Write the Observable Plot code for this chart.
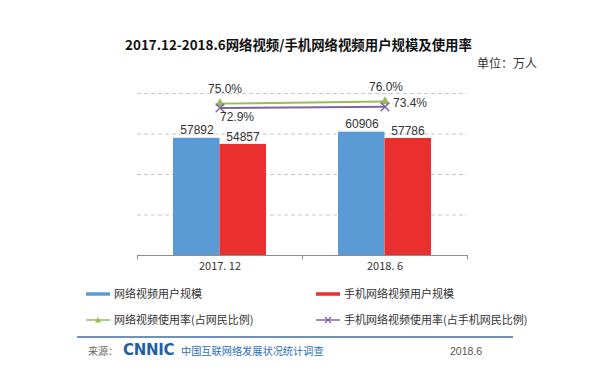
<!DOCTYPE html>
<html>
<head>
<meta charset="utf-8">
<script src="https://cdn.jsdelivr.net/npm/d3@7"></script>
<script src="https://cdn.jsdelivr.net/npm/@observablehq/plot@0.6"></script>
<style>
  html, body { margin: 0; padding: 0; background: #fff; }
  #wrap { position: relative; width: 591px; height: 375px; overflow: hidden; font-family: "Noto Sans CJK SC", "Noto Sans", sans-serif; color: #222; }
  #chart { position: absolute; left: 0; top: 0; }
  .abs { position: absolute; white-space: nowrap; line-height: 1; }
  .title { left: 0; width: 597px; text-align: center; top: 38px; font-size: 13.4px; font-weight: bold; color: #111; }
  .unit { left: 477px; top: 57px; font-size: 12px; color: #333; }
  .leg { font-size: 11px; color: #333; display: flex; align-items: center; }
  .leg svg { margin-right: 4px; }
  .footline { left: 77px; top: 336px; width: 436px; height: 2px; background: #6f93b8; }
  .src { left: 88px; top: 346px; font-size: 10px; color: #666; }
  .logo { left: 123px; top: 343px; font-size: 15px; font-weight: 900; color: #1f5fa8; font-family: "DejaVu Sans", sans-serif; letter-spacing: -0.3px; }
  .survey { left: 181px; top: 346px; font-size: 10.2px; color: #2d6fb5; }
  .date { left: 450px; top: 346px; font-size: 10.5px; color: #555; font-family: "Liberation Sans", sans-serif; }
</style>
</head>
<body>
<div id="wrap">
  <div id="chart"></div>
</div>
<script>
// ---- data ----
const categories = ["2017. 12", "2018. 6"];
const seriesNames = ["网络视频用户规模", "手机网络视频用户规模", "网络视频使用率(占网民比例)", "手机网络视频使用率(占手机网民比例)"];
const videoUsers = [57892, 60906];
const mobileVideoUsers = [54857, 57786];
const videoRate = [75.0, 76.0];
const mobileVideoRate = [72.9, 73.4];
const gridTicks = [20000, 40000, 60000, 80000];
const titleText = "2017.12-2018.6网络视频/手机网络视频用户规模及使用率";
const unitText = "单位：万人";
const sourceLabel = "来源：";
const sourceName = "中国互联网络发展状况统计调查";
const sourceDate = "2018.6";

// ---- styles ----
const BLUE = "#5b9bd5", RED = "#e9302f", GREEN = "#9bbb59", PURPLE = "#8064a2";
const numFont = "Liberation Sans, Arial, sans-serif";

// secondary (percent) axis 0–80% shares the 0–80000 range of the primary axis
const pctToY = p => p * 80000 / 80;

const idx = categories.map((_, i) => i);

const chart = Plot.plot({
  width: 591,
  height: 375,
  marginLeft: 137,
  marginRight: 124,
  marginTop: 93,
  marginBottom: 120,
  x: { type: "band", domain: categories, padding: 0, axis: null },
  y: { domain: [0, 80000], axis: null },
  style: { fontFamily: numFont, background: "transparent", overflow: "visible" },
  marks: [
    Plot.ruleY(gridTicks, { stroke: "#c8c8c8", strokeDasharray: "4,3", strokeWidth: 1 }),
    // bars
    Plot.barY(idx, { x: i => categories[i], y: i => videoUsers[i], fill: BLUE, insetLeft: 36, insetRight: 82.5 }),
    Plot.barY(idx, { x: i => categories[i], y: i => mobileVideoUsers[i], fill: RED, insetLeft: 82.5, insetRight: 36 }),
    // baseline + ticks
    Plot.ruleY([0], { stroke: "#8c8c8c", strokeWidth: 1 }),
    Plot.ruleX(idx, { x: i => categories[i], y1: 0, y2: -2200, dx: -82.5, stroke: "#8c8c8c" }),
    Plot.ruleX([idx[idx.length - 1]], { x: i => categories[i], y1: 0, y2: -2200, dx: 82.5, stroke: "#8c8c8c" }),
    Plot.axisX({ tickSize: 0, tickPadding: 7, fontSize: 11, fill: "#333", fontFamily: "Noto Sans CJK SC, sans-serif" }),
    // bar labels
    Plot.text(idx, { x: i => categories[i], y: i => videoUsers[i], text: i => String(videoUsers[i]), dx: -23, dy: -8, fontSize: 12, fill: "#333" }),
    Plot.text(idx, { x: i => categories[i], y: i => mobileVideoUsers[i], text: i => String(mobileVideoUsers[i]), dx: 23, dy: -7, fontSize: 12, fill: "#333" }),
    // rate lines
    Plot.line(idx, { x: i => categories[i], y: i => pctToY(videoRate[i]), stroke: GREEN, strokeWidth: 2 }),
    Plot.line(idx, { x: i => categories[i], y: i => pctToY(mobileVideoRate[i]), stroke: PURPLE, strokeWidth: 2 }),
    Plot.dot(idx, { x: i => categories[i], y: i => pctToY(videoRate[i]), symbol: "triangle", fill: GREEN, r: 3.5 }),
    Plot.dot(idx, { x: i => categories[i], y: i => pctToY(mobileVideoRate[i]), symbol: "times", stroke: PURPLE, strokeWidth: 1.5, r: 4 }),
    // rate labels
    Plot.text([0], { x: i => categories[i], y: i => pctToY(videoRate[i]), text: i => videoRate[i].toFixed(1) + "%", dx: 5, dy: -14, fontSize: 12, fill: "#333" }),
    Plot.text([1], { x: i => categories[i], y: i => pctToY(videoRate[i]), text: i => videoRate[i].toFixed(1) + "%", dx: 1, dy: -14, fontSize: 12, fill: "#333" }),
    Plot.text([0], { x: i => categories[i], y: i => pctToY(mobileVideoRate[i]), text: i => mobileVideoRate[i].toFixed(1) + "%", dx: 17, dy: 9, fontSize: 12, fill: "#333" }),
    Plot.text([1], { x: i => categories[i], y: i => pctToY(mobileVideoRate[i]), text: i => mobileVideoRate[i].toFixed(1) + "%", dx: 25, dy: -4, fontSize: 12, fill: "#333" })
  ]
});
document.getElementById("chart").appendChild(chart);

const wrap = document.getElementById("wrap");
function addDiv(cls, text, style) {
  const d = document.createElement("div");
  d.className = "abs " + cls;
  if (text != null) d.textContent = text;
  if (style) Object.assign(d.style, style);
  wrap.appendChild(d);
  return d;
}
addDiv("title", titleText);
addDiv("unit", unitText);

// legend
const legendSwatches = [
  `<svg width="24" height="8"><line x1="0" y1="4" x2="24" y2="4" stroke="${BLUE}" stroke-width="3.5"/></svg>`,
  `<svg width="24" height="8"><line x1="0" y1="4" x2="24" y2="4" stroke="${RED}" stroke-width="3.5"/></svg>`,
  `<svg width="24" height="10"><line x1="0" y1="5" x2="24" y2="5" stroke="${GREEN}" stroke-width="1.5"/><path d="M12,2 L15,7.5 L9,7.5 Z" fill="${GREEN}"/></svg>`,
  `<svg width="24" height="10"><line x1="0" y1="5" x2="24" y2="5" stroke="${PURPLE}" stroke-width="1.5"/><path d="M9,2 L15,8 M15,2 L9,8" stroke="${PURPLE}" stroke-width="1.2"/></svg>`
];
const legendPos = [[86, 288], [316, 288], [86, 314], [316, 314]];
seriesNames.forEach((name, i) => {
  const d = addDiv("leg", null, { left: legendPos[i][0] + "px", top: legendPos[i][1] + "px" });
  d.innerHTML = legendSwatches[i] + `<span>${name}</span>`;
});

// footer
addDiv("footline", null);
addDiv("src", sourceLabel);
addDiv("logo", "CNNIC");
addDiv("survey", sourceName);
addDiv("date", sourceDate);
</script>
</body>
</html>
